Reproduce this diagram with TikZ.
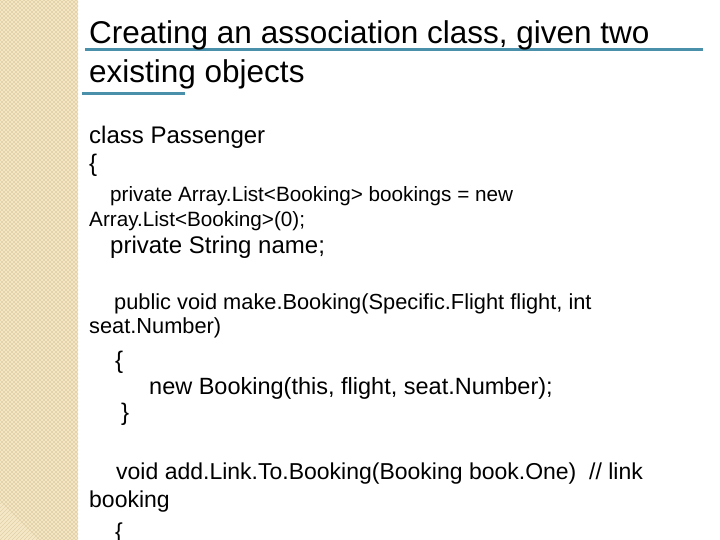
\documentclass[tikz,border=0pt]{standalone}
\usepackage{fontspec}
\setmainfont{Liberation Sans}
\definecolor{stripe}{RGB}{244,232,200}
\definecolor{stripeln}{RGB}{226,208,165}
\definecolor{rulec}{RGB}{74,144,170}
\begin{document}
\begin{tikzpicture}[x=1pt,y=1pt,
  t/.style={anchor=base west,inner sep=0pt,text=black},
  rule/.style={draw=rulec,line width=3pt}]
\useasboundingbox (0,0) rectangle (720,540);
\fill[white] (0,0) rectangle (720,540);
\fill[stripe] (0,0) rectangle (78,540);
\begin{scope}
\clip (0,0) rectangle (78,540);
\foreach \i in {-600,-596,...,100}{
  \draw[stripeln,line width=0.4pt] (\i,0) -- ++(540,540);
  \draw[stripeln,line width=0.4pt] (\i+640,0) -- ++(-540,540);
}
\end{scope}
\draw[rule] (85,490) coordinate (r1a) -- (703,490) coordinate (r1b);
\draw[rule] (82,446) coordinate (r2a) -- (185,446) coordinate (r2b);
\node[t,font=\fontsize{31.5}{34}\selectfont] (n1) at (89,496) {Creating an association class, given two};
\node[t,font=\fontsize{31.5}{34}\selectfont] (n2) at (89,457) {existing objects};
\node[t,font=\fontsize{24}{26}\selectfont] (n3) at (89,396) {class Passenger};
\node[t,font=\fontsize{24}{26}\selectfont] (n4) at (89,368) {\{};
\node[t,font=\fontsize{20.7}{22}\selectfont] (n5) at (89,338) {\hspace{21pt}private Array.List<Booking> bookings = new};
\node[t,font=\fontsize{20.7}{22}\selectfont] (n6) at (89,313) {Array.List<Booking>(0);};
\node[t,font=\fontsize{24}{26}\selectfont] (n7) at (110,286) {private String name;};
\node[t,font=\fontsize{21.8}{24}\selectfont] (n8) at (114,230) {public void make.Booking(Specific.Flight flight, int};
\node[t,font=\fontsize{21.8}{24}\selectfont] (n9) at (89,206) {seat.Number)};
\node[t,font=\fontsize{24}{26}\selectfont] (n10) at (115,171) {\{};
\node[t,font=\fontsize{23.5}{26}\selectfont] (n11) at (149,145) {new Booking(this, flight, seat.Number);};
\node[t,font=\fontsize{24}{26}\selectfont] (n12) at (121,119) {\}};
\node[t,font=\fontsize{23}{26}\selectfont] (n13) at (116,60) {void add.Link.To.Booking(Booking book.One)\ \ // link};
\node[t,font=\fontsize{23}{26}\selectfont] (n14) at (89,32) {booking};
\node[t,font=\fontsize{23}{26}\selectfont] (n15) at (115,0) {\{};
\end{tikzpicture}
\end{document}
